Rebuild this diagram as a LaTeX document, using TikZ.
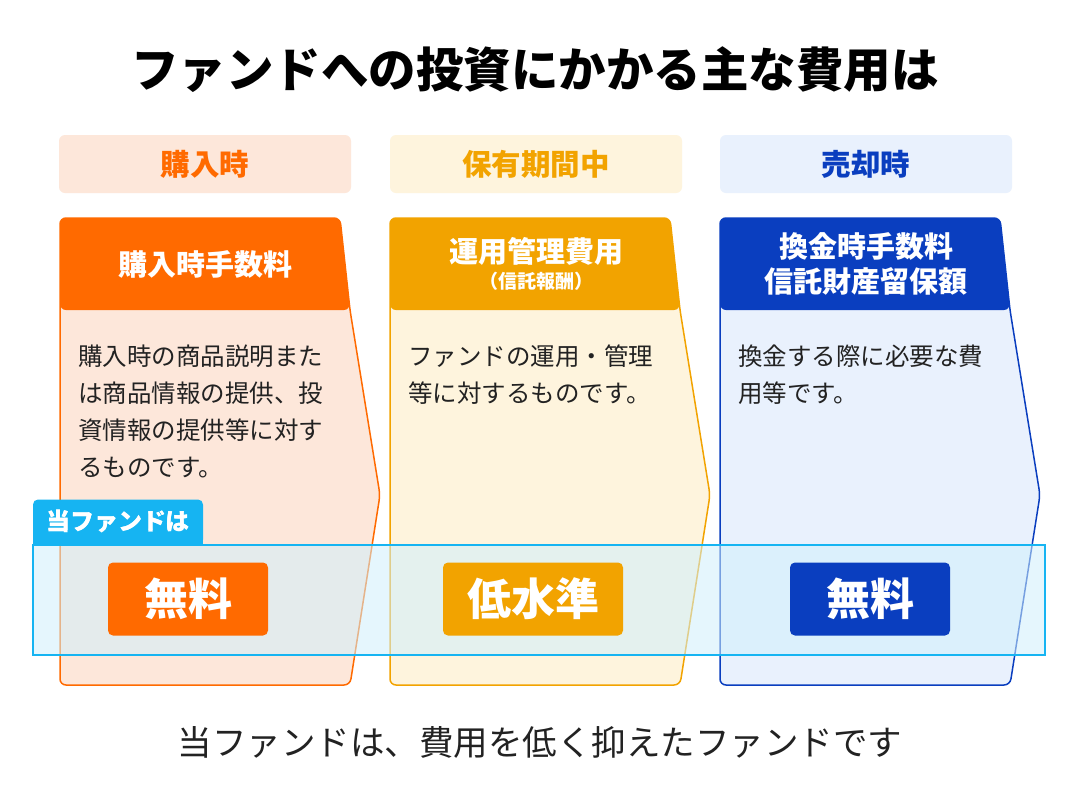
\documentclass[tikz,border=0pt]{standalone}
\usepackage{fontspec}
\setmainfont{Noto Sans CJK JP}
\usetikzlibrary{calc}
\definecolor{orA}{HTML}{FF6A00}\definecolor{orL}{HTML}{FDE7DA}
\definecolor{yeA}{HTML}{F2A300}\definecolor{yeL}{HTML}{FEF4DD}
\definecolor{blA}{HTML}{0A3EBF}\definecolor{blL}{HTML}{E9F1FD}
\definecolor{cy}{HTML}{16B4F2}\definecolor{tx}{HTML}{222222}
\tikzset{
 hdr/.style={rounded corners=6pt,minimum width=292pt,minimum height=58pt,font=\fontsize{29.5}{32}\selectfont\bfseries},
 body/.style={anchor=north west,align=left,font=\fontsize{24.5}{37}\selectfont,text=tx,inner sep=0pt},
 badge/.style={rounded corners=5pt,minimum height=73pt,text=white,font=\fontsize{44}{48}\selectfont\bfseries},
 ctitle/.style={text=white,align=center,font=\fontsize{29}{35}\selectfont\bfseries}
}
\newcommand\card[3]{%
 \fill[#3,rounded corners=6pt] (#1,218) -- (#1+280,218) -- (#1+290,310) -- (#1+320,495) -- (#1+290,685) -- (#1,685) -- cycle;
 \fill[#2,rounded corners=6pt] (#1,310) -- (#1,218) -- (#1+280,218) -- (#1+290,310) -- cycle;
 \draw[#2,line width=1.5pt,rounded corners=6pt] (#1,218) -- (#1+280,218) -- (#1+290,310) -- (#1+320,495) -- (#1+290,685) -- (#1,685) -- cycle;
}
\begin{document}
\begin{tikzpicture}[x=1pt,y=-1pt]
\useasboundingbox (0,0) rectangle (1080,809);
\fill[white] (0,0) rectangle (1080,809);
\node (title) at (535,70) {\fontsize{47.5}{52}\selectfont\bfseries ファンドへの投資にかかる主な費用は};
\node[hdr,fill=orL,text=orA] (h1) at (205,164) {購入時};
\node[hdr,fill=yeL,text=yeA] (h2) at (536,164) {保有期間中};
\node[hdr,fill=blL,text=blA] (h3) at (866,164) {売却時};
\card{60}{orA}{orL}
\card{390}{yeA}{yeL}
\card{720}{blA}{blL}
\node[ctitle] (t1) at (205,264) {購入時手数料};
\node[ctitle] (t2) at (536,264) {運用管理費用\\[-9pt]{\fontsize{19}{22}\selectfont（信託報酬）}};
\node[ctitle] (t3) at (866,264) {換金時手数料\\信託財産留保額};
\node[body] (b1) at (78,345) {購入時の商品説明また\\は商品情報の提供、投\\資情報の提供等に対す\\るものです。};
\node[body] (b2) at (408,345) {ファンドの運用・管理\\等に対するものです。};
\node[body] (b3) at (738,345) {換金する際に必要な費\\用等です。};
\fill[cy!20,opacity=0.55] (33,545) rectangle (1045,655);
\draw[cy,line width=2pt] (33,545) rectangle (1045,655);
\node[fill=cy,text=white,rounded corners=5pt,minimum width=170pt,minimum height=45pt,font=\fontsize{24}{28}\selectfont\bfseries] (tag) at (118,522) {当ファンドは};
\fill[cy] (33,530) rectangle (203,545);
\node[text=white,font=\fontsize{24}{28}\selectfont\bfseries] at (118,522) {当ファンドは};
\node[badge,fill=orA,minimum width=160pt] (m1) at (188,599) {無料};
\node[badge,fill=yeA,minimum width=180pt] (m2) at (533,599) {低水準};
\node[badge,fill=blA,minimum width=160pt] (m3) at (870,599) {無料};
\node[text=tx,font=\fontsize{34.5}{38}\selectfont] (foot) at (540,742) {当ファンドは、費用を低く抑えたファンドです};
\end{tikzpicture}
\end{document}
